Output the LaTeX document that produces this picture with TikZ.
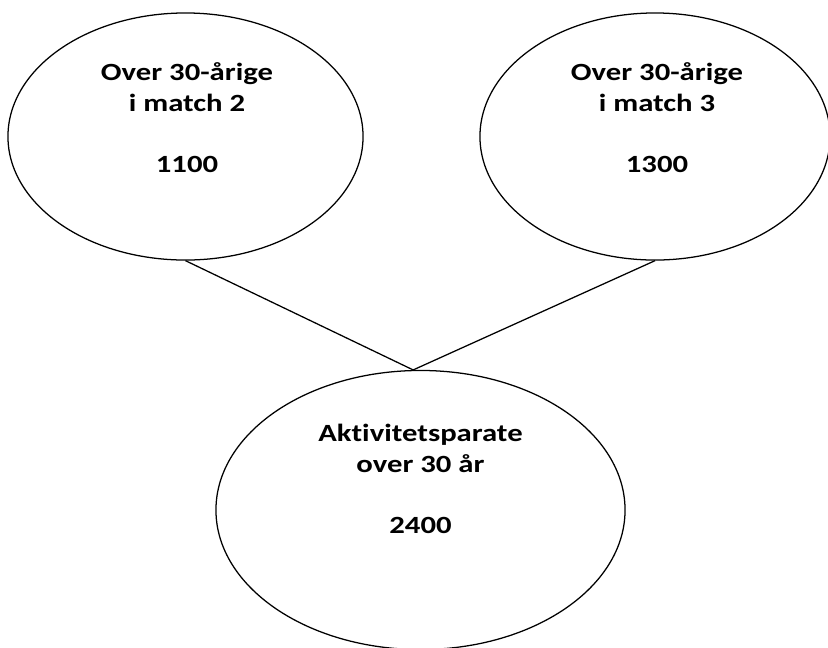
\documentclass[tikz,border=0pt]{standalone}
\usepackage{fontspec}
\setmainfont{Carlito}[FakeStretch=1.24, Ligatures={NoCommon}, Contextuals={NoAlternate}]
\usetikzlibrary{shapes.geometric}

\begin{document}
\begin{tikzpicture}[x=0.025cm, y=-0.025cm, line width=0.9pt,
    oval/.style={ellipse, draw, inner sep=0pt},
    lbl/.style={align=center, anchor=base, font=\bfseries\fontsize{17.6}{21.6}\selectfont}]
    \useasboundingbox (0,0) rectangle (828,647);
    \node[oval, minimum width=8.875cm, minimum height=6.175cm] (m2) at (185.5,136.5) {};
    \node[oval, minimum width=8.75cm, minimum height=6.175cm] (m3) at (655,136.5) {};
    \node[oval, minimum width=10.225cm, minimum height=6.975cm] (sum) at (420.5,510) {};
    \node[lbl] (m2txt) at (187,172) {Over 30-årige\\i match 2\\[21.6pt]1100};
    \node[lbl] (m3txt) at (657,172) {Over 30-årige\\i match 3\\[21.6pt]1300};
    \node[lbl] (sumtxt) at (420.5,533) {Aktivitetsparate\\over 30 år\\[21.6pt]2400};
    \draw (m2.south) -- (sum.93)
          (m3.south) -- (sum.93);
\end{tikzpicture}
\end{document}
